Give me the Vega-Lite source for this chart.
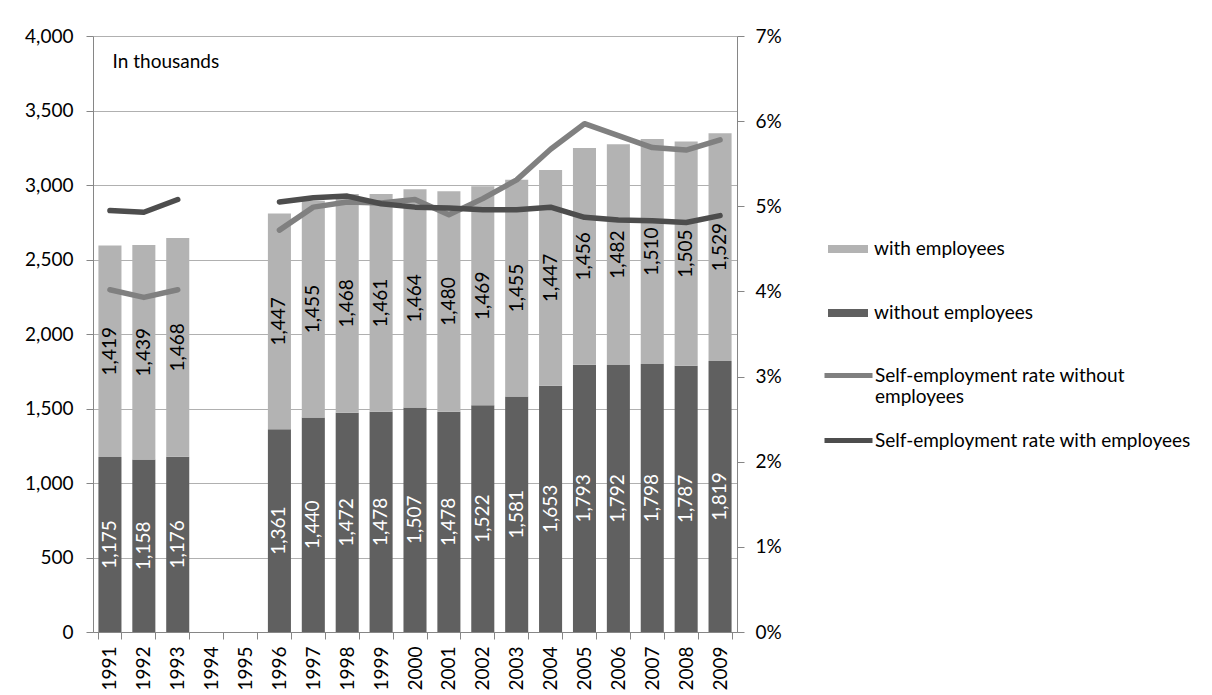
{
  "$schema": "https://vega.github.io/schema/vega-lite/v6.json",
  "width": 644,
  "height": 596,
  "autosize": "none",
  "padding": {"left": 93, "top": 36, "right": 475, "bottom": 63},
  "background": "white",
  "config": {
    "font": "Lato",
    "view": {"stroke": null},
    "axis": {"labelFont": "Lato", "labelFontSize": 19, "labelColor": "#000000", "domainColor": "#868686", "tickColor": "#868686", "gridColor": "#b0b0b0", "tickSize": 7},
    "legend": {"labelFont": "Lato", "labelFontSize": 19, "labelColor": "#000000", "labelLimit": 400}
  },
  "title": {"text": "In thousands", "anchor": "start", "dx": 88, "dy": 49, "fontSize": 19, "font": "Lato", "fontWeight": "normal", "color": "#000000"},
  "datasets": {
    "counts": [
      {"year": "1991", "series": "without employees", "value": 1175},
      {"year": "1991", "series": "with employees", "value": 1419},
      {"year": "1992", "series": "without employees", "value": 1158},
      {"year": "1992", "series": "with employees", "value": 1439},
      {"year": "1993", "series": "without employees", "value": 1176},
      {"year": "1993", "series": "with employees", "value": 1468},
      {"year": "1996", "series": "without employees", "value": 1361},
      {"year": "1996", "series": "with employees", "value": 1447},
      {"year": "1997", "series": "without employees", "value": 1440},
      {"year": "1997", "series": "with employees", "value": 1455},
      {"year": "1998", "series": "without employees", "value": 1472},
      {"year": "1998", "series": "with employees", "value": 1468},
      {"year": "1999", "series": "without employees", "value": 1478},
      {"year": "1999", "series": "with employees", "value": 1461},
      {"year": "2000", "series": "without employees", "value": 1507},
      {"year": "2000", "series": "with employees", "value": 1464},
      {"year": "2001", "series": "without employees", "value": 1478},
      {"year": "2001", "series": "with employees", "value": 1480},
      {"year": "2002", "series": "without employees", "value": 1522},
      {"year": "2002", "series": "with employees", "value": 1469},
      {"year": "2003", "series": "without employees", "value": 1581},
      {"year": "2003", "series": "with employees", "value": 1455},
      {"year": "2004", "series": "without employees", "value": 1653},
      {"year": "2004", "series": "with employees", "value": 1447},
      {"year": "2005", "series": "without employees", "value": 1793},
      {"year": "2005", "series": "with employees", "value": 1456},
      {"year": "2006", "series": "without employees", "value": 1792},
      {"year": "2006", "series": "with employees", "value": 1482},
      {"year": "2007", "series": "without employees", "value": 1798},
      {"year": "2007", "series": "with employees", "value": 1510},
      {"year": "2008", "series": "without employees", "value": 1787},
      {"year": "2008", "series": "with employees", "value": 1505},
      {"year": "2009", "series": "without employees", "value": 1819},
      {"year": "2009", "series": "with employees", "value": 1529}
    ],
    "rates": [
      {"year": "1991", "segment": "a", "rate_series": "Self-employment rate without employees", "rate": 0.0402},
      {"year": "1992", "segment": "a", "rate_series": "Self-employment rate without employees", "rate": 0.0393},
      {"year": "1993", "segment": "a", "rate_series": "Self-employment rate without employees", "rate": 0.0402},
      {"year": "1996", "segment": "b", "rate_series": "Self-employment rate without employees", "rate": 0.0472},
      {"year": "1997", "segment": "b", "rate_series": "Self-employment rate without employees", "rate": 0.0499},
      {"year": "1998", "segment": "b", "rate_series": "Self-employment rate without employees", "rate": 0.0505},
      {"year": "1999", "segment": "b", "rate_series": "Self-employment rate without employees", "rate": 0.0504},
      {"year": "2000", "segment": "b", "rate_series": "Self-employment rate without employees", "rate": 0.0508},
      {"year": "2001", "segment": "b", "rate_series": "Self-employment rate without employees", "rate": 0.0490},
      {"year": "2002", "segment": "b", "rate_series": "Self-employment rate without employees", "rate": 0.0509},
      {"year": "2003", "segment": "b", "rate_series": "Self-employment rate without employees", "rate": 0.0531},
      {"year": "2004", "segment": "b", "rate_series": "Self-employment rate without employees", "rate": 0.0567},
      {"year": "2005", "segment": "b", "rate_series": "Self-employment rate without employees", "rate": 0.0597},
      {"year": "2006", "segment": "b", "rate_series": "Self-employment rate without employees", "rate": 0.0583},
      {"year": "2007", "segment": "b", "rate_series": "Self-employment rate without employees", "rate": 0.0569},
      {"year": "2008", "segment": "b", "rate_series": "Self-employment rate without employees", "rate": 0.0566},
      {"year": "2009", "segment": "b", "rate_series": "Self-employment rate without employees", "rate": 0.0578},
      {"year": "1991", "segment": "a", "rate_series": "Self-employment rate with employees", "rate": 0.0495},
      {"year": "1992", "segment": "a", "rate_series": "Self-employment rate with employees", "rate": 0.0493},
      {"year": "1993", "segment": "a", "rate_series": "Self-employment rate with employees", "rate": 0.0508},
      {"year": "1996", "segment": "b", "rate_series": "Self-employment rate with employees", "rate": 0.0505},
      {"year": "1997", "segment": "b", "rate_series": "Self-employment rate with employees", "rate": 0.0510},
      {"year": "1998", "segment": "b", "rate_series": "Self-employment rate with employees", "rate": 0.0512},
      {"year": "1999", "segment": "b", "rate_series": "Self-employment rate with employees", "rate": 0.0503},
      {"year": "2000", "segment": "b", "rate_series": "Self-employment rate with employees", "rate": 0.0499},
      {"year": "2001", "segment": "b", "rate_series": "Self-employment rate with employees", "rate": 0.0498},
      {"year": "2002", "segment": "b", "rate_series": "Self-employment rate with employees", "rate": 0.0496},
      {"year": "2003", "segment": "b", "rate_series": "Self-employment rate with employees", "rate": 0.0496},
      {"year": "2004", "segment": "b", "rate_series": "Self-employment rate with employees", "rate": 0.0499},
      {"year": "2005", "segment": "b", "rate_series": "Self-employment rate with employees", "rate": 0.0487},
      {"year": "2006", "segment": "b", "rate_series": "Self-employment rate with employees", "rate": 0.0484},
      {"year": "2007", "segment": "b", "rate_series": "Self-employment rate with employees", "rate": 0.0483},
      {"year": "2008", "segment": "b", "rate_series": "Self-employment rate with employees", "rate": 0.0481},
      {"year": "2009", "segment": "b", "rate_series": "Self-employment rate with employees", "rate": 0.0489}
    ]
  },
  "encoding": {
    "x": {
      "field": "year", "type": "ordinal",
      "scale": {"domain": ["1991","1992","1993","1994","1995","1996","1997","1998","1999","2000","2001","2002","2003","2004","2005","2006","2007","2008","2009"], "paddingInner": 0.32, "paddingOuter": 0.16},
      "axis": {"title": null, "labelAngle": 270, "labelAlign": "right", "labelBaseline": "middle", "labelPadding": 7, "tickBand": "extent", "grid": false, "domainColor": "#868686"}
    }
  },
  "layer": [
    {
      "layer": [
        {
          "data": {"name": "counts"},
          "mark": {"type": "bar"},
          "encoding": {
            "y": {"field": "value", "type": "quantitative", "stack": "zero",
              "scale": {"domain": [0, 4000], "nice": false},
              "axis": {"title": null, "orient": "left", "values": [0,500,1000,1500,2000,2500,3000,3500,4000], "format": ",d", "labelPadding": 13, "grid": true}},
            "color": {"field": "series", "type": "nominal",
              "scale": {"domain": ["with employees", "without employees"], "range": ["#b3b3b3", "#606060"]},
              "legend": {"title": null, "orient": "none", "legendX": 735, "legendY": 193, "symbolType": "M-1,-0.2H1V0.2H-1Z", "symbolSize": 1600, "symbolStrokeWidth": 0, "labelOffset": 6, "rowPadding": 34}},
            "order": {"field": "series", "sort": "descending"}
          }
        },
        {
          "data": {"name": "counts"},
          "transform": [
            {"stack": "value", "groupby": ["year"], "sort": [{"field": "series", "order": "descending"}], "as": ["v0", "v1"]},
            {"calculate": "(datum.v0 + datum.v1) / 2", "as": "mid"}
          ],
          "mark": {"type": "text", "angle": 270, "align": "center", "baseline": "middle", "fontSize": 19, "font": "Lato"},
          "encoding": {
            "y": {"field": "mid", "type": "quantitative",
              "scale": {"domain": [0, 4000], "nice": false},
              "axis": {"title": null, "orient": "left", "values": [0,500,1000,1500,2000,2500,3000,3500,4000], "format": ",d", "labelPadding": 13, "grid": true}},
            "text": {"field": "value", "type": "quantitative", "format": ","},
            "color": {"condition": {"test": "datum.series == 'without employees'", "value": "#ffffff"}, "value": "#000000"}
          }
        }
      ]
    },
    {
      "data": {"name": "rates"},
      "mark": {"type": "line", "strokeWidth": 5.5, "strokeCap": "round", "strokeJoin": "round"},
      "encoding": {
        "y": {"field": "rate", "type": "quantitative",
          "scale": {"domain": [0, 0.07], "nice": false},
          "axis": {"title": null, "orient": "right", "values": [0,0.01,0.02,0.03,0.04,0.05,0.06,0.07], "format": ".0%", "labelPadding": 11, "grid": false}},
        "stroke": {"field": "rate_series", "type": "nominal",
          "scale": {"domain": ["Self-employment rate without employees", "Self-employment rate with employees"], "range": ["#808080", "#4d4d4d"]},
          "legend": {"title": null, "orient": "none", "legendX": 729, "legendY": 313, "symbolType": "stroke", "symbolSize": 2304, "symbolStrokeWidth": 5, "labelOffset": 0, "rowPadding": 7,
            "labelExpr": "datum.label == 'Self-employment rate without employees' ? ['Self-employment rate without', 'employees'] : datum.label"}},
        "detail": {"field": "segment", "type": "nominal"}
      }
    }
  ],
  "resolve": {"scale": {"y": "independent"}}
}
